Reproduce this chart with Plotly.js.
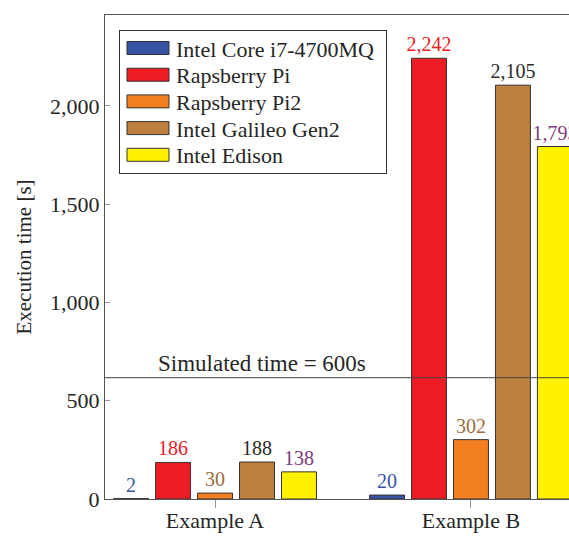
<!DOCTYPE html>
<html>
<head>
<meta charset="utf-8">
<script src="https://cdn.plot.ly/plotly-3.0.1.min.js"></script>
<style>
html,body{margin:0;padding:0;overflow:hidden;background:#fff;}
#chart{width:600px;height:536px;}
</style>
</head>
<body>
<div id="chart"></div>
<script>
const categories = ["Example A", "Example B"];
const seriesNames = ["Intel Core i7-4700MQ", "Rapsberry Pi", "Rapsberry Pi2", "Intel Galileo Gen2", "Intel Edison"];
const coreI7 = [2, 20];
const raspberryPi = [186, 2242];
const raspberryPi2 = [30, 302];
const galileoGen2 = [188, 2105];
const edison = [138, 1793];
const yTicks = [0, 500, 1000, 1500, 2000];
const simulatedLine = 617;
const simulatedLabel = "Simulated time = 600s";

const seriesValues = [coreI7, raspberryPi, raspberryPi2, galileoGen2, edison];
const fillColors = ["#3953A4", "#ED1C24", "#F47F20", "#BF803F", "#FFF200"];
const labelColors = ["#3953A4", "#ED1C24", "#9C6B3C", "#2b2b2b", "#7B3B7B"];
const FONT = "Liberation Serif";

const traces = seriesValues.map((vals, i) => ({
  type: "bar",
  name: seriesNames[i],
  x: categories,
  y: vals,
  marker: {color: fillColors[i], line: {color: "#333", width: 1}},
  text: vals.map(v => v.toLocaleString("en-US")),
  textposition: "outside",
  constraintext: "none",
  cliponaxis: false,
  textfont: {family: FONT, size: 20, color: labelColors[i]},
  hoverinfo: "skip"
}));

const layout = {
  width: 600, height: 536,
  margin: {l: 105, r: 19, t: 15, b: 37},
  paper_bgcolor: "#fff", plot_bgcolor: "#fff",
  barmode: "group", bargap: 0.18, bargroupgap: 0.167,
  font: {family: FONT, color: "#262626", size: 21},
  showlegend: true,
  legend: {
    x: 0.0294, y: 0.969, xanchor: "left", yanchor: "top",
    bgcolor: "#fff", bordercolor: "#333", borderwidth: 1,
    font: {family: FONT, size: 22, color: "#262626"},
    itemwidth: 46, tracegroupgap: 0
  },
  xaxis: {
    type: "category", range: [-0.43, 1.43],
    showline: true, linecolor: "#555", linewidth: 1, mirror: true,
    ticks: "outside", ticklen: 8, tickcolor: "#999",
    ticklabelstandoff: -6,
    tickfont: {family: FONT, size: 22, color: "#262626"},
    showgrid: false, zeroline: false, fixedrange: true
  },
  yaxis: {
    range: [0, 2462],
    tickvals: yTicks, tickformat: ",",
    showline: true, linecolor: "#555", linewidth: 1, mirror: true,
    ticks: "inside", ticklen: 5, tickcolor: "#999",
    tickfont: {family: FONT, size: 22, color: "#262626"},
    showgrid: false, zeroline: false,
    title: {text: "Execution time [s]", font: {family: FONT, size: 21, color: "#262626"}, standoff: 12},
    automargin: false
  },
  shapes: [{
    type: "line", xref: "paper", yref: "y", x0: 0, x1: 1,
    y0: simulatedLine, y1: simulatedLine,
    line: {color: "#444", width: 1}
  }],
  annotations: [{
    xref: "x", yref: "y", x: 0.185, y: simulatedLine,
    yanchor: "bottom", xanchor: "center", yshift: 0,
    text: simulatedLabel, showarrow: false,
    font: {family: FONT, size: 23, color: "#262626"}
  }]
};

Plotly.newPlot("chart", traces, layout, {staticPlot: true, displayModeBar: false}).then(() => {
  const leg = document.querySelector(".legend");
  if (!leg) return;
  leg.querySelectorAll(".legendpoints path").forEach(p => {
    p.setAttribute("d", "M21,6.5H-21V-6.5H21Z");
  });
  const items = leg.querySelectorAll(".traces");
  items.forEach((g, i) => {
    const t = g.getAttribute("transform") || "";
    const m = t.match(/translate\(\s*([-\d.]+)[ ,]+([-\d.]+)/);
    const x = m ? parseFloat(m[1]) : 1;
    g.setAttribute("transform", `translate(${x},${18 + i * 26.7})`);
  });
  const bg = leg.querySelector("rect.bg");
  if (bg) { bg.setAttribute("width", 267); bg.setAttribute("height", 143); }
});
</script>
</body>
</html>
